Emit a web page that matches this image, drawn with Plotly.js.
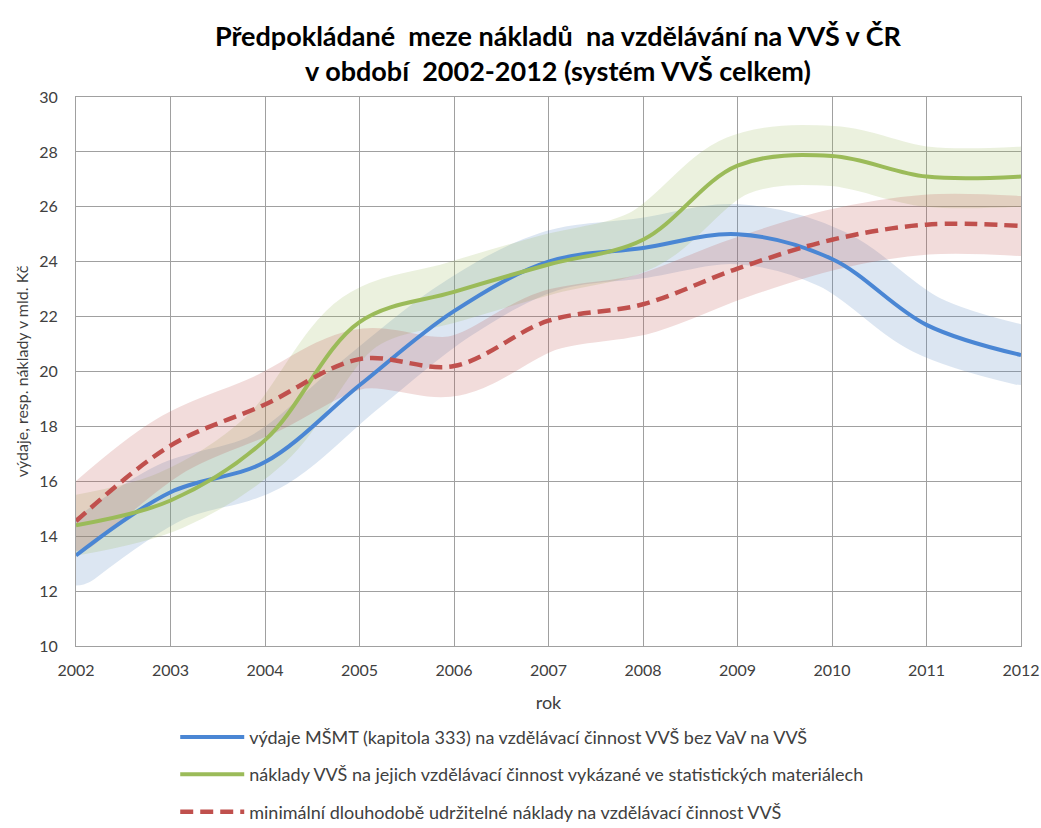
<!DOCTYPE html>
<html>
<head>
<meta charset="utf-8">
<script src="https://cdn.plot.ly/plotly-3.0.1.min.js"></script>
<style>html,body{margin:0;padding:0;background:#fff;}#chart{width:1041px;height:828px;}</style>
</head>
<body>
<div id="chart"></div>
<script>
const years = [2002, 2003, 2004, 2005, 2006, 2007, 2008, 2009, 2010, 2011, 2012];
const vydajeMSMT = [13.3, 15.6, 16.7, 19.5, 22.2, 24.0, 24.5, 25.0, 24.1, 21.7, 20.6];
const nakladyVVS = [14.4, 15.3, 17.5, 21.8, 22.9, 23.9, 24.8, 27.5, 27.85, 27.1, 27.1];
const minimalniNaklady = [14.55, 17.3, 18.8, 20.45, 20.2, 21.85, 22.45, 23.75, 24.8, 25.35, 25.3];

const seriesNames = [
  'výdaje MŠMT (kapitola 333) na vzdělávací činnost VVŠ bez VaV na VVŠ',
  'náklady VVŠ na jejich vzdělávací činnost vykázané ve statistických materiálech',
  'minimální dlouhodobě udržitelné náklady na vzdělávací činnost VVŠ'
];

const FONT = 'Lato, "Open Sans", sans-serif';

function band(y, color) {
  return {x: years, y: y, type: 'scatter', mode: 'lines', showlegend: false, hoverinfo: 'skip',
    line: {shape: 'spline', smoothing: 1, width: 60, color: color}};
}
function main(y, color, name, dash, width, grp) {
  return {x: years, y: y, type: 'scatter', mode: 'lines', name: name, legendgroup: grp,
    line: {shape: 'spline', smoothing: 1, width: width, color: color, dash: dash}};
}

const data = [
  band(vydajeMSMT, 'rgba(79,129,189,0.2)'),
  band(nakladyVVS, 'rgba(155,187,89,0.2)'),
  band(minimalniNaklady, 'rgba(192,80,77,0.2)'),
  main(vydajeMSMT, '#4A86D4', seriesNames[0], 'solid', 4, 'a'),
  main(nakladyVVS, '#9BBB59', seriesNames[1], 'solid', 4, 'b'),
  main(minimalniNaklady, '#C0504D', seriesNames[2], '13px,7px', 4.5, 'c')
];

const layout = {
  width: 1041, height: 828,
  paper_bgcolor: '#ffffff', plot_bgcolor: '#ffffff',
  margin: {l: 76, r: 20, t: 97, b: 182},
  font: {family: FONT, size: 16, color: '#404040'},
  title: {
    text: '<b>Předpokládané  meze nákladů  na vzdělávání na VVŠ v ČR<br>v období  2002-2012 (systém VVŠ celkem)</b>',
    font: {family: FONT, size: 27, color: '#000000'},
    x: 0.536, xanchor: 'center', y: 0.945, yanchor: 'top'
  },
  xaxis: {
    range: [2002, 2012], tickmode: 'linear', tick0: 2002, dtick: 1,
    showgrid: true, gridcolor: '#a0a0a0', gridwidth: 1,
    showline: true, linecolor: '#a0a0a0', linewidth: 1, mirror: true,
    zeroline: false, ticks: '', ticklabelstandoff: 10, tickfont: {size: 16, color: '#404040'},
    title: {text: 'rok', font: {size: 18, color: '#404040'}, standoff: 18}
  },
  yaxis: {
    range: [10, 30], tickmode: 'linear', tick0: 10, dtick: 2,
    showgrid: true, gridcolor: '#a0a0a0', gridwidth: 1,
    showline: true, linecolor: '#a0a0a0', linewidth: 1, mirror: true,
    zeroline: false, ticks: '', ticklabelstandoff: 14, tickfont: {size: 16, color: '#404040'},
    title: {text: 'výdaje, resp. náklady v mld. Kč', font: {size: 16, color: '#404040'}, standoff: 6}
  },
  showlegend: true,
  legend: {
    x: 0.105, xanchor: 'left', yref: 'container', y: 0.132, yanchor: 'top',
    orientation: 'v', traceorder: 'grouped', tracegroupgap: 11,
    itemwidth: 64, font: {size: 18, color: '#404040'}, bgcolor: 'rgba(0,0,0,0)'
  }
};

Plotly.newPlot('chart', data, layout, {displayModeBar: false, staticPlot: true}).then(function () {
  const traces = document.querySelectorAll('.scatterlayer .trace');
  for (let i = 0; i < 3 && i < traces.length; i++) {
    traces[i].querySelectorAll('path.js-line').forEach(function (p) {
      p.style.strokeLinecap = 'round';
      p.style.strokeLinejoin = 'round';
    });
  }
});
</script>
</body>
</html>
